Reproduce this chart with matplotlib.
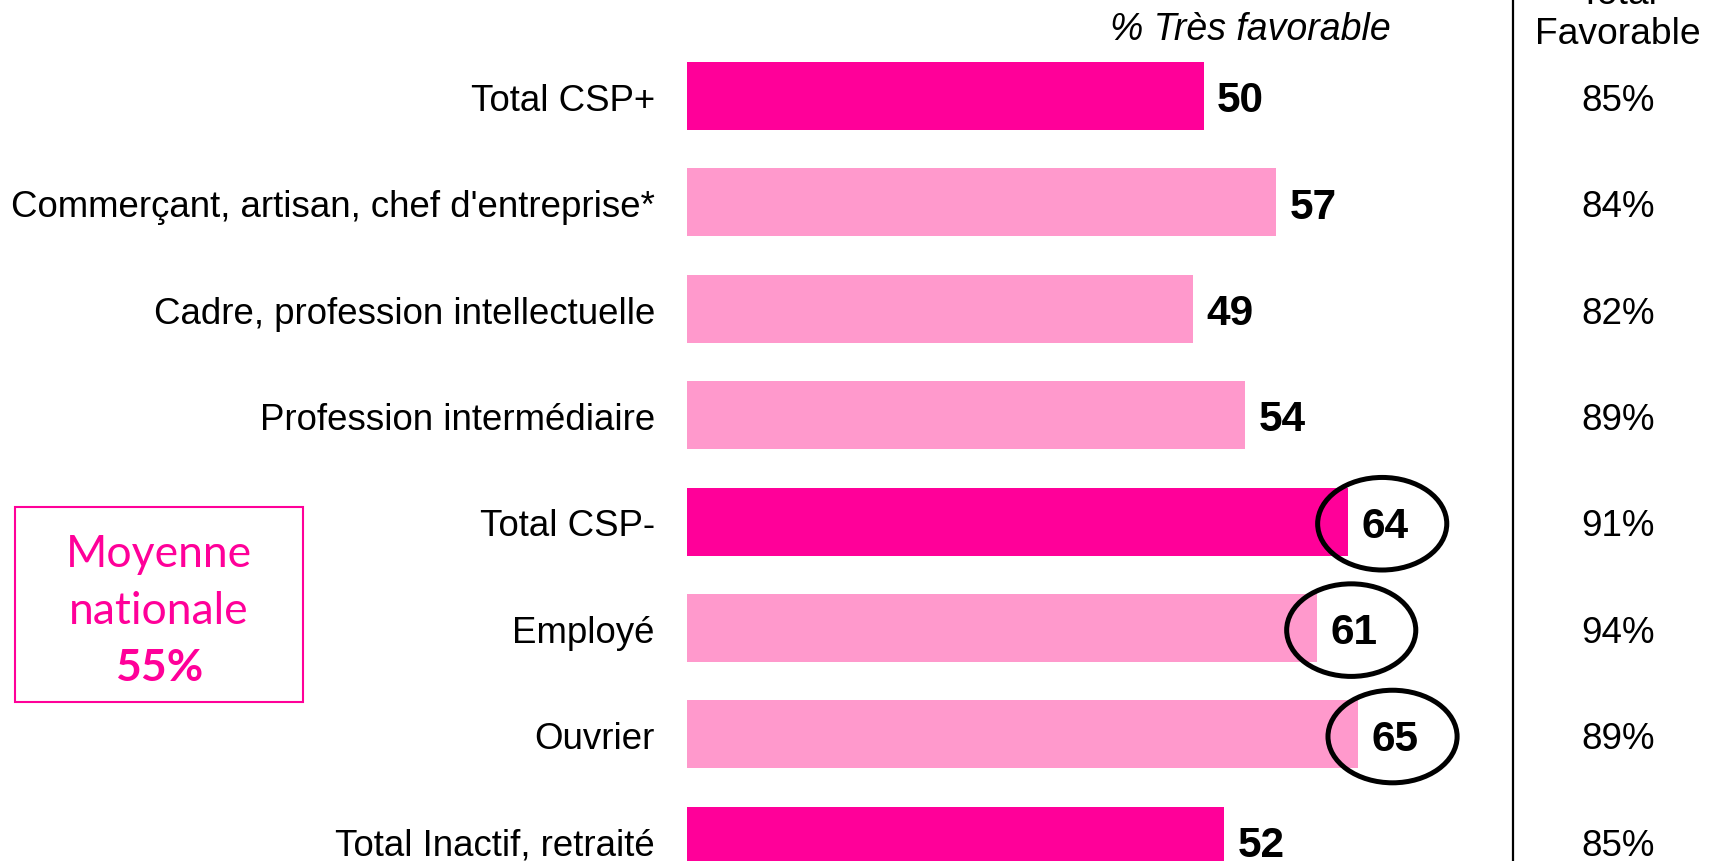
import matplotlib.pyplot as plt
from matplotlib.patches import Ellipse, Rectangle

categories = [
    "Total CSP+",
    "Commerçant, artisan, chef d'entreprise*",
    "Cadre, profession intellectuelle",
    "Profession intermédiaire",
    "Total CSP-",
    "Employé",
    "Ouvrier",
    "Total Inactif, retraité",
]
tres_favorable = [50, 57, 49, 54, 64, 61, 65, 52]
total_favorable = ["85%", "84%", "82%", "89%", "91%", "94%", "89%", "85%"]
is_total = [True, False, False, False, True, False, False, True]
circled = [False, False, False, False, True, True, True, False]

DARK = "#FF0099"
LIGHT = "#FF99CC"

plt.rcParams["font.family"] = ["Liberation Sans", "DejaVu Sans"]

fig = plt.figure(figsize=(17.09, 8.62), dpi=100)
ax = fig.add_axes([0, 0, 1, 1])
ax.set_axis_off()

# pixel mapping: bar origin at x=687 px, ~10.33 px per point; rows every 106.4 px
px_per_unit = 10.33
ax.set_xlim(-687 / px_per_unit, (1709 - 687) / px_per_unit)
ax.set_ylim((862 - 97) / 106.4, -97 / 106.4)

rows = list(range(len(categories)))
colors = [DARK if t else LIGHT for t in is_total]
ax.barh(rows, tres_favorable, height=0.64, color=colors, zorder=1)

for i, (cat, v, tf) in enumerate(zip(categories, tres_favorable, total_favorable)):
    ax.text(-3.1, i + 0.04, cat, ha="right", va="center", fontsize=26.4)
    ax.text(v + 1.3, i + 0.04, str(v), ha="left", va="center",
            fontsize=30.5, fontweight="bold", zorder=3)
    ax.text(90.1, i + 0.04, tf, ha="center", va="center", fontsize=26.5)
    if circled[i]:
        ax.add_patch(Ellipse((v + 3.3, i + 0.02), 12.5, 0.87, fill=False,
                             edgecolor="black", linewidth=3.6, zorder=4))

# headers
ax.text(54.5, -0.54, "% Très favorable", ha="center", va="baseline",
        fontsize=27, style="italic")
ax.text(90.1, -0.875, "Total", ha="center", va="baseline", fontsize=26.8)
ax.text(90.1, -0.50, "Favorable", ha="center", va="baseline", fontsize=26.8)

# separator line
ax.axvline(80.0, color="black", linewidth=1.6)

# national average box
fig.patches.append(Rectangle((15 / 1709, 1 - 703 / 862), 288 / 1709, 195 / 862,
                             transform=fig.transFigure, fill=False,
                             edgecolor=DARK, linewidth=1.5))
fig.text(159 / 1709, 1 - 567 / 862, "Moyenne", ha="center", va="baseline",
         fontsize=32, color=DARK, family="Lato")
fig.text(159 / 1709, 1 - 624 / 862, "nationale", ha="center", va="baseline",
         fontsize=32, color=DARK, family="Lato")
fig.text(159 / 1709, 1 - 681 / 862, "55%", ha="center", va="baseline",
         fontsize=32, color=DARK, family="Lato", fontweight="bold")

plt.savefig("out.png", dpi=100)
